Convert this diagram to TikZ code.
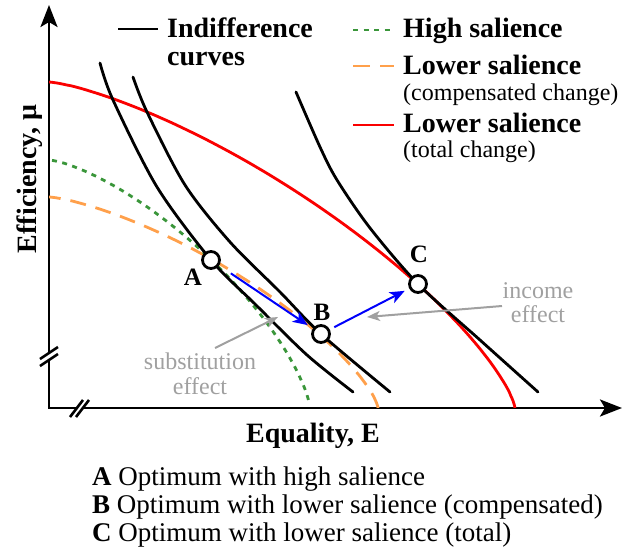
\documentclass[tikz,border=0pt]{standalone}
\usepackage{fontspec}
\setmainfont{Liberation Serif}
\usetikzlibrary{arrows.meta}
\definecolor{hsgreen}{RGB}{58,150,58}
\definecolor{lsorange}{RGB}{255,160,75}
\definecolor{tcred}{RGB}{250,0,0}
\definecolor{efblue}{RGB}{0,0,250}
\definecolor{efgray}{RGB}{160,160,160}
\begin{document}
\begin{tikzpicture}[x=1pt,y=-1pt,
  icurve/.style={line width=2.8pt, black, line cap=round},
  hsal/.style={line width=2.8pt, hsgreen, dash pattern=on 5pt off 5.5pt},
  lsal/.style={line width=2.8pt, lsorange, dash pattern=on 16pt off 10pt},
  tsal/.style={line width=2.8pt, tcred},
  axisline/.style={line width=2.8pt, black},
  optpt/.style={circle, draw=black, fill=white, line width=2.8pt, minimum size=17pt, inner sep=0pt},
  bigtxt/.style={font=\fontsize{28}{30}\selectfont\bfseries, inner sep=0pt},
  smalltxt/.style={font=\fontsize{24}{26}\selectfont, inner sep=0pt},
  ptlabel/.style={font=\fontsize{25}{27}\selectfont\bfseries, inner sep=0pt},
  efftxt/.style={font=\fontsize{24}{26}\selectfont, text=efgray, inner sep=0pt, anchor=base},
  botxt/.style={font=\fontsize{27}{29}\selectfont, inner sep=0pt, anchor=base west},
  barrow/.style={efblue, line width=2pt, -{Stealth[length=15pt,width=12pt,inset=4pt]}},
  garrow/.style={efgray, line width=2pt, -{Stealth[length=13pt,width=10pt,inset=3.5pt]}}
]
\useasboundingbox (0,0) rectangle (625,557);

% axes
\draw[axisline, -{Stealth[length=22pt,width=17pt,inset=5pt]}] (49,353) -- (49,5);
\draw[axisline, line cap=butt] (49,360) -- (49,408) -- (76,408);
\draw[axisline, -{Stealth[length=22pt,width=17pt,inset=5pt]}] (82,408) -- (622,408);
% break marks
\draw[line width=2.6pt] (40,359) -- (58,347);
\draw[line width=2.6pt] (40,366) -- (58,354);
\draw[line width=2.6pt] (70,417) -- (83,400);
\draw[line width=2.6pt] (76,417) -- (89,400);

% budget curves
\draw[tsal] plot[domain=0.3:89.7, samples=90, smooth, variable=\t]
  ({49+466*cos(\t)^1.4815}, {408-326*sin(\t)^1.4815});
\draw[lsal] plot[domain=0.3:89.7, samples=90, smooth, variable=\t]
  ({49+329*cos(\t)^1.46}, {408-211*sin(\t)^1.46});
\draw[hsal] plot[domain=5.2:89.7, samples=90, smooth, variable=\t]
  ({49+261*cos(\t)^1.4286}, {408-248*sin(\t)^1.4286});

% indifference curves
\draw[icurve] plot[smooth] coordinates {(100,63) (113,100) (157,187) (211,260) (255,304) (307,355) (353,392)};
\draw[icurve] plot[smooth] coordinates {(133,77) (147,112) (185,185) (230,242) (280,292) (321,334) (390,392)};
\draw[icurve] plot[smooth] coordinates {(296,92) (320,147) (337,180) (370,228) (418,284) (480,340) (538,392)};

% optimum points
\node[optpt] (A) at (211,260) {};
\node[optpt] (B) at (321,334) {};
\node[optpt] (C) at (418,284) {};
\node[ptlabel] (labA) at (193,277) {A};
\node[ptlabel] (labB) at (322,312) {B};
\node[ptlabel] (labC) at (419,254) {C};

% effect arrows
\draw[barrow, shorten <=14pt, shorten >=6pt] (A) -- (B);
\draw[barrow, shorten <=5pt, shorten >=5pt] (B) -- (C);

\coordinate (subs) at (215,348);
\coordinate (subt) at (278,317);
\draw[garrow] (subs) -- (subt);
\coordinate (incs) at (502,306);
\coordinate (inct) at (367,317);
\draw[garrow] (incs) -- (inct);
\node[efftxt] (sub1) at (200,369) {substitution};
\node[efftxt] (sub2) at (200,394) {effect};
\node[efftxt] (inc1) at (538,298) {income};
\node[efftxt] (inc2) at (538,322) {effect};

% axis labels
\node[bigtxt, rotate=90, anchor=base] (ylab) at (37,179) {Efficiency, μ};
\node[bigtxt, anchor=base] (xlab) at (313,442) {Equality, E};

% legend
\draw[icurve, line cap=butt] (118,29) -- (158,29);
\node[bigtxt, anchor=base west] (lg1) at (167,37) {Indifference};
\node[bigtxt, anchor=base west] (lg1b) at (167,65) {curves};
\draw[hsal] (353,30) -- (394,30);
\node[bigtxt, anchor=base west] (lg2) at (403,37) {High salience};
\draw[lsal, dash pattern=on 17pt off 10pt] (353,66) -- (394,66);
\node[bigtxt, anchor=base west] (lg3) at (403,74) {Lower salience};
\node[smalltxt, anchor=base west] (lg3b) at (403,100) {(compensated change)};
\draw[tsal] (353,125) -- (394,125);
\node[bigtxt, anchor=base west] (lg4) at (403,132) {Lower salience};
\node[smalltxt, anchor=base west] (lg4b) at (403,157) {(total change)};

% bottom key
\node[botxt] (keyA) at (92,485) {\textbf{A} Optimum with high salience};
\node[botxt] (keyB) at (92,513) {\textbf{B} Optimum with lower salience (compensated)};
\node[botxt] (keyC) at (92,541) {\textbf{C} Optimum with lower salience (total)};
\end{tikzpicture}
\end{document}
